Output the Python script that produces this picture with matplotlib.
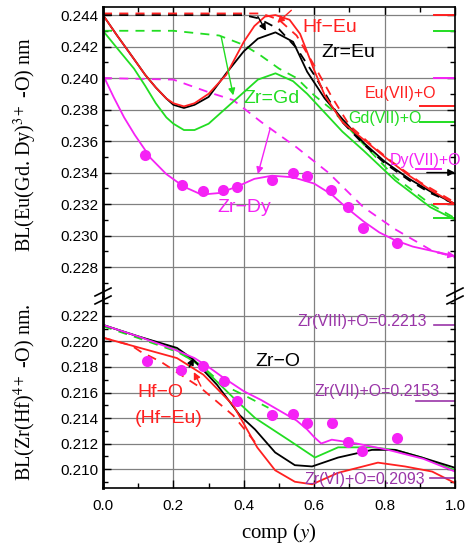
import matplotlib
matplotlib.use("Agg")
import matplotlib.pyplot as plt
from matplotlib.ticker import MultipleLocator, FormatStrFormatter
from matplotlib.lines import Line2D

plt.rcParams['font.family'] = ['Liberation Sans', 'DejaVu Sans']
plt.rcParams['mathtext.fontset'] = 'stix'

RED = '#ff2020'
GREEN = '#22dd22'
MAG = '#f522f5'
PURP = '#9a35a8'

# ---------- upper panel: Eu / Gd / Dy - O bond length ----------
hfeu_x = [0.0, 0.04, 0.085, 0.12, 0.15, 0.18, 0.20, 0.23, 0.26, 0.30, 0.35, 0.40, 0.43,
          0.46, 0.49, 0.53, 0.56, 0.60, 0.63, 0.68, 0.74, 0.80, 0.87, 0.93, 1.0]
hfeu_y = [0.2440, 0.2427, 0.2413, 0.2402, 0.2394, 0.2387, 0.2384, 0.2382, 0.2384, 0.2390,
          0.2402, 0.2423, 0.2433, 0.2439, 0.2440, 0.2437, 0.2428, 0.2405, 0.2389, 0.2372,
          0.2361, 0.2350, 0.2338, 0.2329, 0.2320]
hfeu_dash_x = [0.0, 0.45, 0.50, 0.55, 0.60, 0.65, 0.70, 0.76, 0.82, 0.90, 1.0]
hfeu_dash_y = [0.2441, 0.2441, 0.2437, 0.2427, 0.2408, 0.2388, 0.2370, 0.2358, 0.2347,
               0.2334, 0.2321]

zreu_x = [0.0, 0.04, 0.085, 0.12, 0.15, 0.18, 0.20, 0.23, 0.26, 0.30, 0.35, 0.40, 0.44,
          0.49, 0.54, 0.58, 0.63, 0.68, 0.74, 0.80, 0.87, 0.93, 1.0]
zreu_y = [0.2440, 0.2427, 0.2413, 0.2402, 0.2394, 0.2387, 0.2383, 0.2381, 0.2383, 0.2388,
          0.2403, 0.2417, 0.2425, 0.2429, 0.2423, 0.2404, 0.2387, 0.2374, 0.2359, 0.2347,
          0.2336, 0.2328, 0.2320]
zreu_dash_x = [0.0, 0.40, 0.44, 0.50, 0.55, 0.60, 0.65, 0.68, 0.74, 0.80, 0.87, 0.93, 1.0]
zreu_dash_y = [0.2440, 0.2440, 0.2438, 0.2431, 0.2419, 0.2402, 0.2383, 0.2372, 0.2358,
               0.2346, 0.2335, 0.2327, 0.2320]

zrgd_x = [0.0, 0.04, 0.088, 0.12, 0.15, 0.18, 0.20, 0.23, 0.26, 0.30, 0.35, 0.40, 0.44,
          0.49, 0.54, 0.58, 0.63, 0.68, 0.74, 0.83, 0.93, 1.0]
zrgd_y = [0.2430, 0.2419, 0.2406, 0.2395, 0.2384, 0.2375, 0.2371, 0.2367, 0.2367, 0.2371,
          0.2381, 0.2391, 0.2399, 0.2403, 0.2398, 0.2390, 0.2378, 0.2366, 0.2354, 0.2335,
          0.2318, 0.2310]
zrgd_dash_x = [0.0, 0.20, 0.33, 0.40, 0.45, 0.50, 0.55, 0.60, 0.65, 0.74, 0.83, 0.93, 1.0]
zrgd_dash_y = [0.2430, 0.2430, 0.2427, 0.2421, 0.2414, 0.2406, 0.2400, 0.2389, 0.2380,
               0.2358, 0.2337, 0.2320, 0.2311]

zrdy_x = [0.0, 0.03, 0.06, 0.09, 0.136, 0.18, 0.23, 0.28, 0.33, 0.38, 0.43, 0.48, 0.54,
          0.60, 0.65, 0.69, 0.74, 0.785, 0.83, 0.88, 0.94, 1.0]
zrdy_y = [0.2402, 0.2388, 0.2375, 0.2364, 0.2349, 0.2339, 0.2331, 0.2326, 0.2327, 0.2331,
          0.2336, 0.2338, 0.2337, 0.2333, 0.2326, 0.2318, 0.2309, 0.2302, 0.2297, 0.2293,
          0.2290, 0.2287]
zrdy_dash_x = [0.0, 0.20, 0.25, 0.30, 0.37, 0.45, 0.55, 0.64, 0.74, 0.83, 0.93, 1.0]
zrdy_dash_y = [0.2400, 0.2399, 0.2395, 0.2391, 0.2386, 0.2372, 0.2356, 0.2340, 0.2318,
               0.2304, 0.2291, 0.2286]

dy_pts_x = [0.119, 0.224, 0.284, 0.341, 0.381, 0.480, 0.540, 0.580, 0.648, 0.696, 0.739, 0.835]
dy_pts_y = [0.2351, 0.2332, 0.2328, 0.2329, 0.2331, 0.2335, 0.2340, 0.2338, 0.2329,
            0.2318, 0.2305, 0.2295]

# ---------- lower panel: Zr(Hf) - O bond length ----------
zro_mag_x = [0.0, 0.10, 0.20, 0.26, 0.30, 0.34, 0.40, 0.45, 0.50, 0.55, 0.58, 0.60, 0.62,
             0.65, 0.72, 0.81, 0.91, 1.0]
zro_mag_y = [0.2213, 0.2204, 0.2194, 0.2187, 0.2180, 0.2172, 0.2161, 0.2154, 0.2146,
             0.2138, 0.2131, 0.2125, 0.2120, 0.2123, 0.2120, 0.2115, 0.2108, 0.2098]
zro_blk_x = [0.0, 0.10, 0.21, 0.256, 0.324, 0.389, 0.432, 0.489, 0.545, 0.594, 0.668,
             0.764, 0.83, 0.906, 1.0]
zro_blk_y = [0.2213, 0.2204, 0.2195, 0.2186, 0.2166, 0.2142, 0.2131, 0.2113, 0.2103,
             0.2102, 0.2109, 0.2115, 0.2115, 0.2109, 0.2101]
zro_grn_x = [0.0, 0.10, 0.20, 0.285, 0.37, 0.432, 0.526, 0.602, 0.668, 0.764, 0.83, 0.906, 1.0]
zro_grn_y = [0.2213, 0.2204, 0.2195, 0.2179, 0.2156, 0.2140, 0.2123, 0.2109, 0.2117,
             0.2117, 0.2115, 0.2109, 0.2099]
zro_grn_dash_x = [0.0, 0.097, 0.21, 0.276, 0.341, 0.40, 0.47]
zro_grn_dash_y = [0.2212, 0.2203, 0.2192, 0.2182, 0.2166, 0.2158, 0.2148]
hfo_x = [0.0, 0.21, 0.285, 0.37, 0.438, 0.489, 0.545, 0.594, 0.668, 0.781, 0.858, 0.935, 1.0]
hfo_y = [0.2203, 0.2187, 0.2174, 0.2150, 0.2117, 0.2099, 0.2090, 0.2088, 0.2097, 0.2105,
         0.2102, 0.2098, 0.2089]
hfo_dash_x = [0.0, 0.08, 0.107, 0.165, 0.276, 0.37, 0.438]
hfo_dash_y = [0.2203, 0.2197, 0.2192, 0.2184, 0.2164, 0.2142, 0.2119]

zr_pts_x = [0.125, 0.222, 0.284, 0.344, 0.381, 0.480, 0.540, 0.580, 0.651, 0.696, 0.736, 0.835]
zr_pts_y = [0.2185, 0.2178, 0.2181, 0.2169, 0.2153, 0.2142, 0.2143, 0.2136, 0.2136,
            0.2121, 0.2114, 0.2124]

zr_ref_vals = [0.2213, 0.2153, 0.2093]
zr_ref_labels = ['Zr(VIII)+O=0.2213', 'Zr(VII)+O=0.2153', 'Zr(VI)+O=0.2093']

fig = plt.figure(figsize=(4.65, 5.48), dpi=100)
ax1 = fig.add_axes([103 / 465, 1 - 297 / 548, 352 / 465, 290 / 548])
ax2 = fig.add_axes([103 / 465, 1 - 488 / 548, 352 / 465, 191 / 548])

lw = 1.3
dash = (0, (5, 4))

ax1.plot(zrgd_dash_x, zrgd_dash_y, color=GREEN, lw=lw, ls=dash)
ax1.plot(zrdy_dash_x, zrdy_dash_y, color=MAG, lw=lw, ls=dash)
ax1.plot(zreu_dash_x, zreu_dash_y, color='black', lw=lw, ls=dash)
ax1.plot(hfeu_dash_x, hfeu_dash_y, color=RED, lw=lw, ls=dash)
ax1.plot(zrgd_x, zrgd_y, color=GREEN, lw=lw)
ax1.plot(zrdy_x, zrdy_y, color=MAG, lw=lw)
ax1.plot(zreu_x, zreu_y, color='black', lw=lw)
ax1.plot(hfeu_x, hfeu_y, color=RED, lw=lw)
ax1.plot(dy_pts_x, dy_pts_y, 'o', color=MAG, ms=8, mec='none')

# short reference markers at the right edge
for v, c, x0, x1 in [(0.2440, RED, 0.94, 1.0), (0.2430, GREEN, 0.94, 1.0),
                     (0.2400, MAG, 0.94, 1.0), (0.2382, RED, 0.90, 1.0),
                     (0.2372, GREEN, 0.90, 1.0), (0.2342, MAG, 0.89, 0.96),
                     (0.2320, RED, 0.94, 1.0), (0.2311, GREEN, 0.94, 1.0)]:
    ax1.plot([x0, x1], [v, v], color=c, lw=1.4)

def arrow(ax, xy, xyt, c):
    ax.annotate('', xy=xy, xytext=xyt,
                arrowprops=dict(arrowstyle='-|>', color=c, lw=1.0, mutation_scale=10,
                                shrinkA=0, shrinkB=0))

arrow(ax1, (0.370, 0.2389), (0.336, 0.2426), GREEN)
arrow(ax1, (0.440, 0.2339), (0.475, 0.2368), MAG)
arrow(ax1, (0.463, 0.2430), (0.440, 0.2439), 'black')
arrow(ax1, (0.495, 0.2435), (0.535, 0.2443), RED)
arrow(ax1, (1.0, 0.2340), (0.92, 0.2340), 'black')
arrow(ax1, (1.0, 0.2287), (0.95, 0.2289), MAG)

fs = 14
ax1.text(0.645, 0.24324, 'Hf\u2212Eu', color=RED, fontsize=fs, ha='center', va='center')
ax1.text(0.696, 0.24165, 'Zr=Eu', color='black', fontsize=fs, ha='center', va='center')
ax1.text(0.480, 0.23873, 'Zr=Gd', color=GREEN, fontsize=fs, ha='center', va='center')
ax1.text(0.400, 0.23175, 'Zr\u2212Dy', color=MAG, fontsize=fs, ha='center', va='center')
ax1.text(0.844, 0.23905, 'Eu(VII)+O', color=RED, fontsize=11.5, ha='center', va='center')
ax1.text(0.800, 0.23746, 'Gd(VII)+O', color=GREEN, fontsize=11.5, ha='center', va='center')
ax1.text(0.915, 0.23479, 'Dy(VII)+O', color=MAG, fontsize=11.5, ha='center', va='center',
         clip_on=False)

ax2.plot(zro_grn_dash_x, zro_grn_dash_y, color=GREEN, lw=lw, ls=dash)
ax2.plot(hfo_dash_x, hfo_dash_y, color=RED, lw=lw, ls=dash)
ax2.plot(zro_grn_x, zro_grn_y, color=GREEN, lw=lw)
ax2.plot(zro_blk_x, zro_blk_y, color='black', lw=lw)
ax2.plot(zro_mag_x, zro_mag_y, color=MAG, lw=lw)
ax2.plot(hfo_x, hfo_y, color=RED, lw=lw)
ax2.plot(zr_pts_x, zr_pts_y, 'o', color=MAG, ms=8, mec='none')

arrow(ax2, (0.258, 0.2187), (0.245, 0.2180), 'black')
arrow(ax2, (0.258, 0.2176), (0.278, 0.2165), RED)

for v, lab, tx, ty, x0 in zip(zr_ref_vals, zr_ref_labels,
                              [0.736, 0.778, 0.744], [0.22153, 0.21604, 0.20914],
                              [0.94, 0.89, 0.93]):
    ax2.plot([x0, 1.0], [v, v], color=PURP, lw=1.2)
    ax2.text(tx, ty, lab, color=PURP, fontsize=11.5, ha='center', va='center')

ax2.text(0.497, 0.21847, 'Zr\u2212O', color='black', fontsize=fs, ha='center', va='center')
ax2.text(0.097, 0.2160, 'Hf\u2212O', color=RED, fontsize=fs, ha='left', va='center')
ax2.text(0.091, 0.2140, '(Hf\u2212Eu)', color=RED, fontsize=fs, ha='left', va='center')

for ax in (ax1, ax2):
    ax.set_xlim(0, 1.0)
    ax.xaxis.set_major_locator(MultipleLocator(0.2))
    ax.xaxis.set_minor_locator(MultipleLocator(0.1))
    ax.yaxis.set_major_locator(MultipleLocator(0.002))
    ax.yaxis.set_minor_locator(MultipleLocator(0.001))
    ax.yaxis.set_major_formatter(FormatStrFormatter('%.3f'))
    ax.grid(True, which='major', color='#808080', lw=0.9)
    ax.set_axisbelow(True)
    ax.tick_params(which='both', direction='in', top=True, right=True, labelsize=11,
                   colors='black', width=1.0)
    ax.tick_params(which='major', length=6)
    ax.tick_params(which='minor', length=3.5)
    for s in ax.spines.values():
        s.set_linewidth(1.2)
    ax.spines['left'].set_linewidth(2.0)

ax1.set_ylim(0.22610, 0.24451)
ax2.set_ylim(0.20851, 0.22349)
ax1.spines['bottom'].set_visible(False)
ax2.spines['top'].set_visible(False)
ax1.tick_params(which='both', bottom=False, labelbottom=False)
ax2.tick_params(which='both', top=False)
ax2.xaxis.set_major_formatter(FormatStrFormatter('%.1f'))
ax2.tick_params(axis='x', pad=8)

# axis break marks
for px in (103, 455):
    for py in (292, 300):
        fig.add_artist(Line2D([(px - 8) / 465, (px + 8) / 465],
                              [1 - (py + 4) / 548, 1 - (py - 4) / 548],
                              color='black', lw=1.2))

fig.text(25 / 465, 1 - 145 / 548, 'BL(Eu(Gd. Dy)$^{3+}$ -O) nm', rotation=90,
         family='Liberation Serif', fontsize=14.5, ha='center', va='center')
fig.text(25 / 465, 1 - 392 / 548, 'BL(Zr(Hf)$^{4+}$ -O) nm.', rotation=90,
         family='Liberation Serif', fontsize=14.5, ha='center', va='center')
fig.text(279 / 465, 1 - 533 / 548, 'comp ($y$)', family='Liberation Serif',
         fontsize=15, ha='center', va='center')

fig.savefig('out.png', dpi=100)
